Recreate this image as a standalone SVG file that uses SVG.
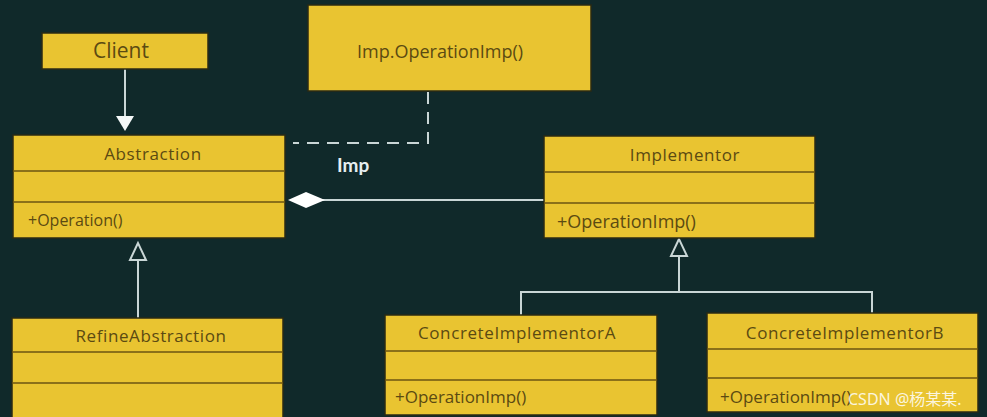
<svg xmlns="http://www.w3.org/2000/svg" width="987" height="417" viewBox="0 0 987 417">
<style>
.box{fill:#e9c431;stroke:#2a2a14;stroke-width:1.5}
.div{stroke:#6b5512;stroke-width:1.5}
.t{font-family:"Open Sans","Liberation Sans",sans-serif;fill:#5b4a12;font-size:16px}
.h{font-size:17px;letter-spacing:0.6px}
.c{text-anchor:middle}
.ln{stroke:#c9d6d6;stroke-width:2;fill:none}
</style>
<rect width="987" height="417" fill="#10292a"/>
<g id="connectors">
<line class="ln" x1="125" y1="69" x2="125" y2="118"/>
<polygon points="116,116 134,116 125,131" fill="#f4f8f8"/>
<polyline class="ln" points="428,92 428,143 293,143" stroke-dasharray="12,8"/>
<line class="ln" x1="322" y1="200" x2="545" y2="200"/>
<polygon points="288,200 306,192 325,200 306,208" fill="#ffffff"/>
<line class="ln" x1="138" y1="260" x2="138" y2="318"/>
<polygon points="138,243 130,260 146,260" fill="#10292a" stroke="#c9d6d6" stroke-width="2"/>
<line class="ln" x1="679" y1="256" x2="679" y2="292"/>
<polygon points="679,239 671,256 687,256" fill="#10292a" stroke="#c9d6d6" stroke-width="2"/>
<polyline class="ln" points="521,315 521,292 872,292 872,313"/>
<text x="337" y="172" font-family="Lato,'Liberation Sans',sans-serif" font-weight="bold" font-size="19" fill="#e6eef0">Imp</text>
</g>
<g id="client">
<rect class="box" x="42" y="33" width="166" height="36" stroke="#d9d0a0"/>
<text class="t c" x="121" y="58" style="font-size:21px">Client</text>
</g>
<g id="impnote">
<rect class="box" x="308" y="5" width="283" height="86"/>
<text class="t c" x="440" y="58" style="font-size:18px">Imp.OperationImp()</text>
</g>
<g id="abstraction">
<rect class="box" x="13" y="135" width="272" height="103"/>
<line class="div" x1="13" y1="171" x2="285" y2="171"/>
<line class="div" x1="13" y1="202" x2="285" y2="202"/>
<text class="t h c" x="153" y="160">Abstraction</text>
<text class="t" x="28" y="226">+Operation()</text>
</g>
<g id="implementor">
<rect class="box" x="544" y="136" width="271" height="102"/>
<line class="div" x1="544" y1="172" x2="815" y2="172"/>
<line class="div" x1="544" y1="203" x2="815" y2="203"/>
<text class="t h c" x="685" y="161">Implementor</text>
<text class="t" x="557" y="228" style="font-size:18px">+OperationImp()</text>
</g>
<g id="refine">
<rect class="box" x="12" y="318" width="271" height="104"/>
<line class="div" x1="12" y1="352" x2="283" y2="352"/>
<line class="div" x1="12" y1="383" x2="283" y2="383"/>
<text class="t h c" x="151" y="342">RefineAbstraction</text>
</g>
<g id="concreteA">
<rect class="box" x="385" y="315" width="272" height="100"/>
<line class="div" x1="385" y1="351" x2="657" y2="351"/>
<line class="div" x1="385" y1="380" x2="657" y2="380"/>
<text class="t h c" x="517" y="339">ConcreteImplementorA</text>
<text class="t" x="395" y="403" style="font-size:17px">+OperationImp()</text>
</g>
<g id="concreteB">
<rect class="box" x="707" y="313" width="271" height="99"/>
<line class="div" x1="707" y1="349" x2="978" y2="349"/>
<line class="div" x1="707" y1="378" x2="978" y2="378"/>
<text class="t h c" x="845" y="339">ConcreteImplementorB</text>
<text class="t" x="720" y="403" style="font-size:17px">+OperationImp()</text>
</g>
<text x="848" y="405" font-family="'Noto Sans','Noto Sans CJK SC',sans-serif" font-size="16" fill="#ffffff" fill-opacity="0.85">CSDN @杨某某.</text>
</svg>
